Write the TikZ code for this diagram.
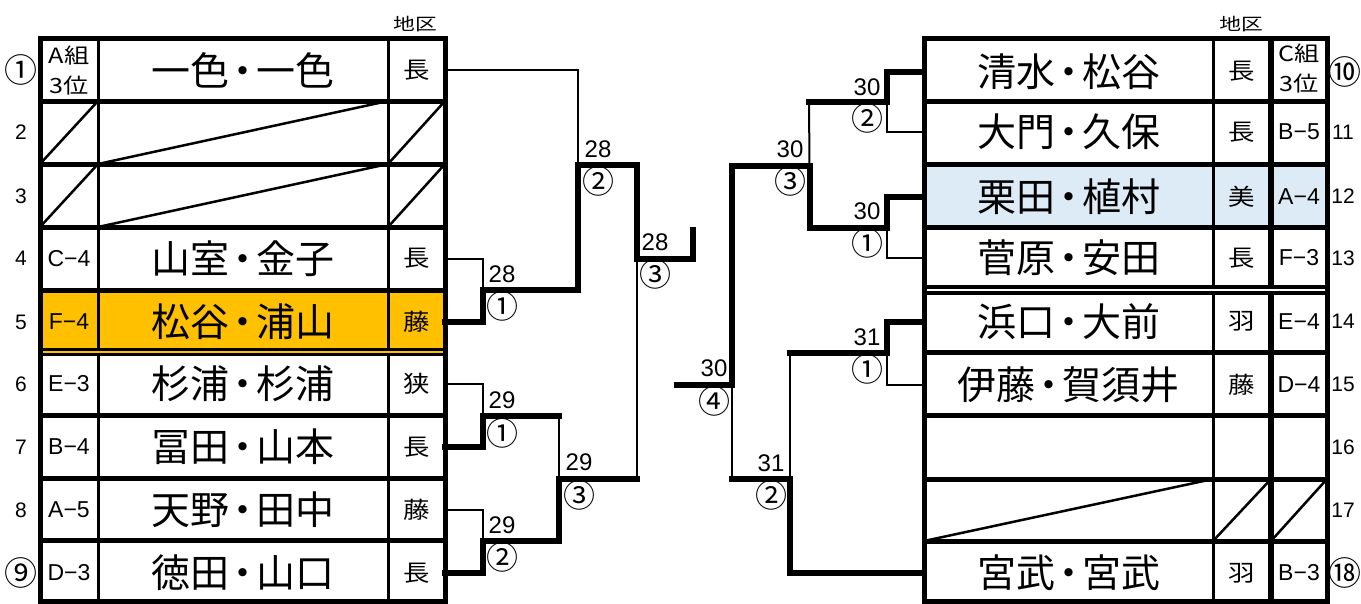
\documentclass[tikz,border=0pt]{standalone}
\usepackage{fontspec}
\setmainfont{Noto Sans CJK JP}
\newfontfamily\lat{Liberation Sans}
\definecolor{gold}{HTML}{FFC000}
\definecolor{ltblue}{HTML}{DDEBF7}
\newcommand\ndot{\kern-6pt・\kern-6pt}
\tikzset{
  nm/.style={inner sep=0pt, minimum width=289pt, minimum height=56pt, font=\fontsize{39}{39}\selectfont},
  dc/.style={inner sep=0pt, minimum width=57pt, minimum height=56pt, font=\fontsize{23}{23}\selectfont},
  gp/.style={inner sep=0pt, minimum width=56pt, minimum height=56pt, font=\lat\fontsize{23}{23}\selectfont},
  gp2/.style={inner sep=0pt, align=center, font=\fontsize{21}{30}\selectfont},
  hd/.style={inner sep=0pt, font=\fontsize{17}{17}\selectfont},
  rn/.style={inner sep=0pt, font=\lat\fontsize{21}{21}\selectfont},
  cn/.style={inner sep=0pt, font=\fontsize{33}{33}\selectfont},
  mn/.style={inner sep=0pt, font=\lat\fontsize{24}{24}\selectfont},
  mc/.style={inner sep=0pt, font=\fontsize{32}{32}\selectfont},
  thk/.style={line width=6pt, line cap=rect, line join=miter},
  thn/.style={line width=2pt},
  bd/.style={line width=5pt},
  cl/.style={line width=3pt},
  dg/.style={line width=2.5pt},
}
\begin{document}
\begin{tikzpicture}[x=1pt,y=-1pt]
\useasboundingbox (0,0) rectangle (1361,603);
% ---------- fills ----------
\fill[gold] (40,290) rectangle (445,353.5);
\fill[ltblue] (924,164) rectangle (1327,227);
% ---------- nodes : left table ----------
\node[hd] (hdL) at (415,24) {\scalebox{1.28}[1]{地区}};
\node[cn] (nL1) at (21.5,70) {①};
\node[rn] (nL2) at (21,132) {2};
\node[rn] (nL3) at (21,196) {3};
\node[rn] (nL4) at (21,258.5) {4};
\node[rn] (nL5) at (21,322) {5};
\node[rn] (nL6) at (21,384) {6};
\node[rn] (nL7) at (21,447) {7};
\node[rn] (nL8) at (21,510) {8};
\node[cn] (nL9) at (21.5,573) {⑨};
\node[gp2] (L1g) at (69,70) {\scalebox{1.2}[1]{A組}\\\scalebox{1.2}[1]{3位}};
\node[gp] (L4g) at (69,258.5) {C−4};
\node[gp] (L5g) at (69,322) {F−4};
\node[gp] (L6g) at (69,384) {E−3};
\node[gp] (L7g) at (69,447) {B−4};
\node[gp] (L8g) at (69,510) {A−5};
\node[gp] (L9g) at (69,573) {D−3};
\node[nm] (L1n) at (243,70) {一色\ndot 一色};
\node[nm] (L4n) at (243,258.5) {山室\ndot 金子};
\node[nm] (L5n) at (243,322) {松谷\ndot 浦山};
\node[nm] (L6n) at (243,384) {杉浦\ndot 杉浦};
\node[nm] (L7n) at (243,447) {冨田\ndot 山本};
\node[nm] (L8n) at (243,510) {天野\ndot 田中};
\node[nm] (L9n) at (243,573) {徳田\ndot 山口};
\node[dc] (L1d) at (416.5,70) {\scalebox{1.15}[1]{長}};
\node[dc] (L4d) at (416.5,258.5) {\scalebox{1.15}[1]{長}};
\node[dc] (L5d) at (416.5,322) {\scalebox{1.15}[1]{藤}};
\node[dc] (L6d) at (416.5,384) {\scalebox{1.15}[1]{狭}};
\node[dc] (L7d) at (416.5,447) {\scalebox{1.15}[1]{長}};
\node[dc] (L8d) at (416.5,510) {\scalebox{1.15}[1]{藤}};
\node[dc] (L9d) at (416.5,573) {\scalebox{1.15}[1]{長}};
% ---------- nodes : right table ----------
\node[hd] (hdR) at (1241,24) {\scalebox{1.28}[1]{地区}};
\node[nm] (R10n) at (1068.5,71.5) {清水\ndot 松谷};
\node[nm] (R11n) at (1068.5,132) {大門\ndot 久保};
\node[nm] (R12n) at (1068.5,196.5) {栗田\ndot 植村};
\node[nm] (R13n) at (1068.5,258) {菅原\ndot 安田};
\node[nm] (R14n) at (1068.5,321.5) {浜口\ndot 大前};
\node[nm] (R15n) at (1068.5,384.5) {伊藤\ndot 賀須井};
\node[nm] (R18n) at (1068.5,573) {宮武\ndot 宮武};
\node[dc] (R10d) at (1242,71.5) {\scalebox{1.15}[1]{長}};
\node[dc] (R11d) at (1242,132) {\scalebox{1.15}[1]{長}};
\node[dc] (R12d) at (1242,196.5) {\scalebox{1.15}[1]{美}};
\node[dc] (R13d) at (1242,258) {\scalebox{1.15}[1]{長}};
\node[dc] (R14d) at (1242,321.5) {\scalebox{1.15}[1]{羽}};
\node[dc] (R15d) at (1242,384.5) {\scalebox{1.15}[1]{藤}};
\node[dc] (R18d) at (1242,573) {\scalebox{1.15}[1]{羽}};
\node[gp2] (R10g) at (1299,68) {\scalebox{1.2}[1]{C組}\\\scalebox{1.2}[1]{3位}};
\node[gp] (R11g) at (1299,132) {B−5};
\node[gp] (R12g) at (1299,196.5) {A−4};
\node[gp] (R13g) at (1299,258) {F−3};
\node[gp] (R14g) at (1299,321.5) {E−4};
\node[gp] (R15g) at (1299,384.5) {D−4};
\node[gp] (R18g) at (1299,573) {B−3};
\node[cn] (nR10) at (1345,71.5) {⑩};
\node[rn] (nR11) at (1343,132) {11};
\node[rn] (nR12) at (1343,196.5) {12};
\node[rn] (nR13) at (1343,258) {13};
\node[rn] (nR14) at (1343,321.5) {14};
\node[rn] (nR15) at (1343,384.5) {15};
\node[rn] (nR16) at (1343,447) {16};
\node[rn] (nR17) at (1343,510) {17};
\node[cn] (nR18) at (1345,573) {⑱};
% ---------- bracket coordinates ----------
\coordinate (La1) at (483,289.5);
\coordinate (La2) at (578,164.5);
\coordinate (La3) at (636.5,258.5);
\coordinate (Lstub) at (693,230);
\coordinate (Lb1) at (483,416);
\coordinate (Lb1e) at (558.5,416);
\coordinate (Lb2) at (483,541);
\coordinate (Lb3) at (558.5,479);
\coordinate (Lb3e) at (636.5,479);
\coordinate (Ra2) at (887,102);
\coordinate (Ra2l) at (809,102);
\coordinate (Ra1) at (887,227.5);
\coordinate (Ra3) at (809.5,165.5);
\coordinate (Rf) at (731.5,384.5);
\coordinate (Rfe) at (677,384.5);
\coordinate (Rb1) at (887,352.5);
\coordinate (Rb1l) at (790,352.5);
\coordinate (Rb2) at (790,479);
\coordinate (Rb2l) at (731.5,479);
% ---------- bracket lines : left ----------
\draw[thn] (L1d.east) -| (La2);
\draw[thn] (L4d.east) -| (La1);
\draw[thk] (L5d.east) -| (La1) -| (La2) -| (La3) -| (Lstub);
\draw[thn] (La3) -- (Lb3e);
\draw[thn] (L6d.east) -| (Lb1);
\draw[thk] (L7d.east) -| (Lb1) -- (Lb1e);
\draw[thn] (Lb1e) -- (Lb3);
\draw[thn] (L8d.east) -| (Lb2);
\draw[thk] (L9d.east) -| (Lb2) -| (Lb3) -- (Lb3e);
% ---------- bracket lines : right ----------
\draw[thk] (R10n.west) -| (Ra2) -- (Ra2l);
\draw[thn] (R11n.west) -| (Ra2);
\draw[thn] (Ra2l) -- (Ra3);
\draw[thk] (R12n.west) -| (Ra1) -| (Ra3) -| (Rf) -- (Rfe);
\draw[thn] (R13n.west) -| (Ra1);
\draw[thn] (Rf) -- (Rb2l);
\draw[thk] (R14n.west) -| (Rb1) -- (Rb1l);
\draw[thn] (R15n.west) -| (Rb1);
\draw[thn] (Rb1l) -- (Rb2);
\draw[thk] (R18n.west) -| (Rb2) -- (Rb2l);
% ---------- match labels ----------
\node[mn] (mLa1) at (502,274) {28}; \node[mc] (cLa1) at (502,306) {①};
\node[mn] (mLa2) at (598,149) {28}; \node[mc] (cLa2) at (598,181) {②};
\node[mn] (mLa3) at (655,242) {28}; \node[mc] (cLa3) at (655,274) {③};
\node[mn] (mLb1) at (502,400) {29}; \node[mc] (cLb1) at (502,433) {①};
\node[mn] (mLb2) at (502,525) {29}; \node[mc] (cLb2) at (502,557) {②};
\node[mn] (mLb3) at (579,462) {29}; \node[mc] (cLb3) at (579,495) {③};
\node[mn] (mF) at (714,368) {30}; \node[mc] (cF) at (714,401) {④};
\node[mn] (mRa2) at (867,87) {30}; \node[mc] (cRa2) at (867,118) {②};
\node[mn] (mRa1) at (867,211) {30}; \node[mc] (cRa1) at (867,243) {①};
\node[mn] (mRa3) at (790,149) {30}; \node[mc] (cRa3) at (790,181) {③};
\node[mn] (mRb1) at (867,337) {31}; \node[mc] (cRb1) at (867,369) {①};
\node[mn] (mRb2) at (771,463) {31}; \node[mc] (cRb2) at (771,495) {②};
% ---------- left table grid ----------
\draw[dg] (40,164) -- (98,101);
\draw[dg] (98,164) -- (388,101);
\draw[dg] (388,164) -- (445,101);
\draw[dg] (40,227) -- (98,164);
\draw[dg] (98,227) -- (388,164);
\draw[dg] (388,227) -- (445,164);
\foreach \yy in {101,164,227,290,415,478.5,540.5} \draw[bd] (40,\yy) -- (445,\yy);
\draw[cl] (98,38.5) -- (98,601);
\draw[cl] (388,38.5) -- (388,601);
\fill[gold] (42,351) rectangle (443,352.8);
\draw[line width=2.8pt] (40,349.7) -- (445,349.7);
\draw[line width=3.2pt] (40,354.5) -- (445,354.5);
\draw[bd] (40,38.5) rectangle (445,601);
% ---------- right table grid ----------
\draw[dg] (924,541) -- (1213,479);
\draw[dg] (1213,541) -- (1271,479);
\draw[dg] (1271,541) -- (1327,479);
\foreach \yy in {101,164,227,352.5,415,479,541} \draw[bd] (924,\yy) -- (1327,\yy);
\draw[cl] (1213,38.5) -- (1213,601);
\draw[line width=5.5pt] (1271,38.5) -- (1271,601);
\fill[white] (926,288.8) rectangle (1325,291.3);
\draw[line width=3.5pt] (924,287) -- (1327,287);
\draw[line width=3.5pt] (924,293.2) -- (1327,293.2);
\draw[bd] (924,38.5) rectangle (1327,601);
\end{tikzpicture}
\end{document}
